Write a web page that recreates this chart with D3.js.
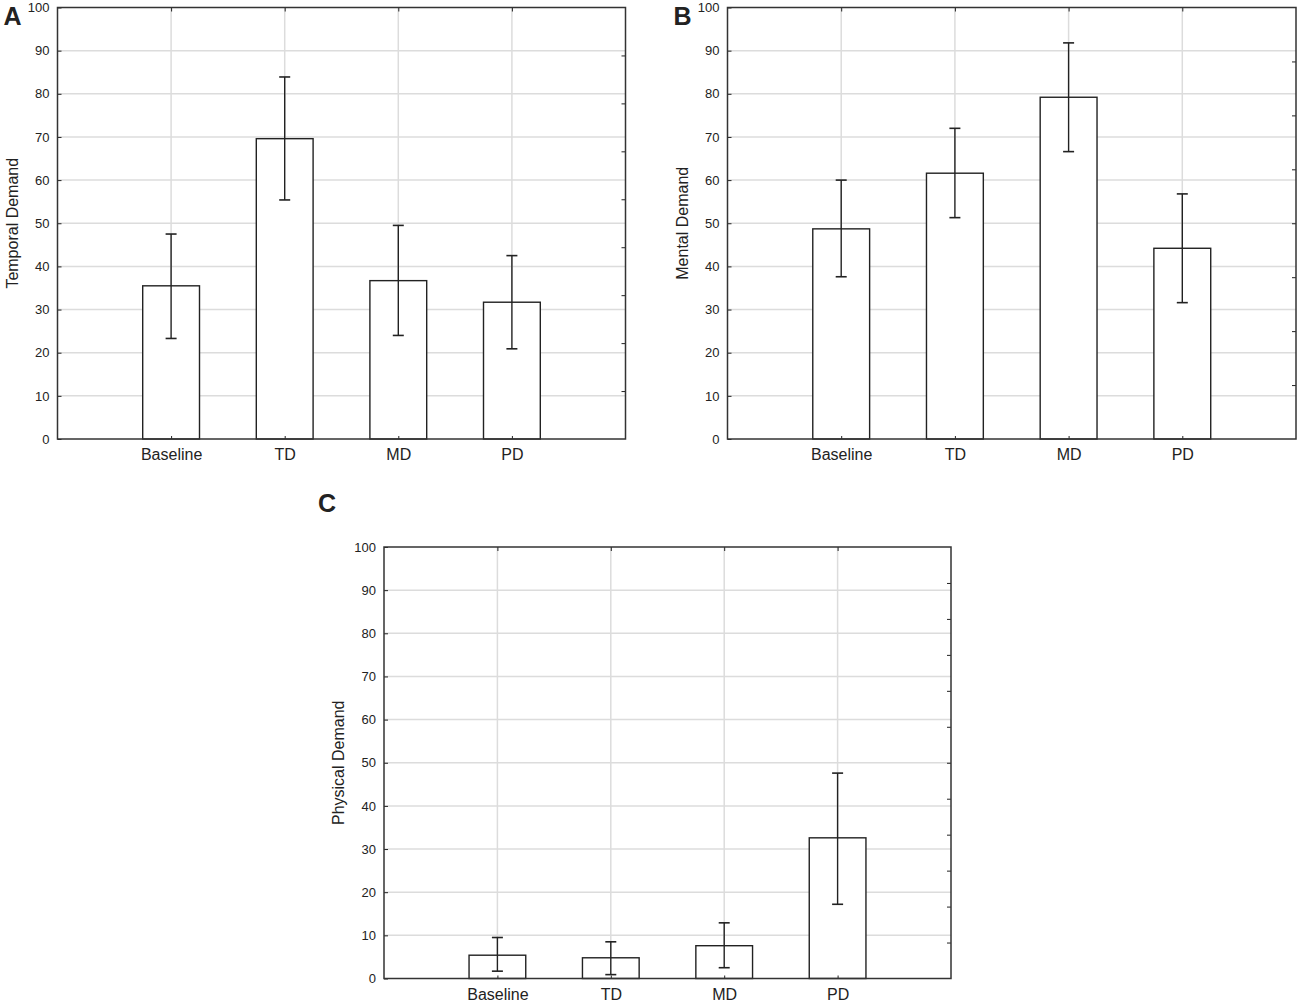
<!DOCTYPE html>
<html>
<head>
<meta charset="utf-8">
<script src="https://cdn.jsdelivr.net/npm/d3@7"></script>
<style>
  body { margin: 0; background: #fff; }
  text { font-family: "Liberation Sans", Arial, sans-serif; fill: #222; }
</style>
</head>
<body>
<div id="chart"></div>
<script>
// categories shared by the three panels
var categories = ["Baseline", "TD", "MD", "PD"];
var yTicks = [0, 10, 20, 30, 40, 50, 60, 70, 80, 90, 100];

// A - temporal demand
var temporalMean = [35.5, 69.6, 36.7, 31.7];
var temporalLow  = [23.3, 55.4, 24.0, 20.9];
var temporalHigh = [47.5, 83.9, 49.5, 42.5];

// B - mental demand
var mentalMean = [48.7, 61.6, 79.2, 44.2];
var mentalLow  = [37.6, 51.3, 66.6, 31.6];
var mentalHigh = [60.0, 72.0, 91.8, 56.8];

// C - physical demand
var physicalMean = [5.4, 4.8, 7.6, 32.6];
var physicalLow  = [1.7, 0.9, 2.5, 17.2];
var physicalHigh = [9.5, 8.5, 12.9, 47.6];

var svg = d3.select("#chart").append("svg")
    .attr("width", 1300)
    .attr("height", 1004);

var panels = [
    {letter: "A", title: "Temporal Demand", mean: temporalMean, low: temporalLow, high: temporalHigh,
     left: 57.5, top: 7.5, right: 625.5, bottom: 439, rightTicks: 9},
    {letter: "B", title: "Mental Demand", mean: mentalMean, low: mentalLow, high: mentalHigh,
     left: 727.5, top: 7.5, right: 1296, bottom: 439, rightTicks: 8},
    {letter: "C", title: "Physical Demand", mean: physicalMean, low: physicalLow, high: physicalHigh,
     left: 384, top: 547, right: 951, bottom: 978.5, rightTicks: 12}
];

function drawPanel(p) {
    var w = p.right - p.left;
    var g = svg.append("g");

    var x = d3.scalePoint().domain(categories).range([p.left + w / 5, p.right - w / 5]);
    var y = d3.scaleLinear().domain([0, 100]).range([p.bottom, p.top]);
    var barW = w / 10;

    var data = categories.map(function(c, i) {
        return {cat: c, mean: p.mean[i], low: p.low[i], high: p.high[i]};
    });

    // grid
    g.selectAll(".hgrid").data(yTicks.slice(1, -1)).enter().append("line")
        .attr("x1", p.left).attr("x2", p.right)
        .attr("y1", d => y(d)).attr("y2", d => y(d))
        .attr("stroke", "#dcdcdc").attr("stroke-width", 1.5);
    g.selectAll(".vgrid").data(categories).enter().append("line")
        .attr("x1", d => x(d)).attr("x2", d => x(d))
        .attr("y1", p.top).attr("y2", p.bottom)
        .attr("stroke", "#dcdcdc").attr("stroke-width", 1.5);

    // bars
    g.selectAll(".bar").data(data).enter().append("rect")
        .attr("x", d => x(d.cat) - barW / 2)
        .attr("y", d => y(d.mean))
        .attr("width", barW)
        .attr("height", d => y(0) - y(d.mean))
        .attr("fill", "#fff").attr("stroke", "#222").attr("stroke-width", 1.4);

    // error bars
    var eb = g.selectAll(".err").data(data).enter().append("g");
    eb.append("line")
        .attr("x1", d => x(d.cat)).attr("x2", d => x(d.cat))
        .attr("y1", d => y(d.low)).attr("y2", d => y(d.high))
        .attr("stroke", "#222").attr("stroke-width", 1.4);
    eb.append("line")
        .attr("x1", d => x(d.cat) - 5.5).attr("x2", d => x(d.cat) + 5.5)
        .attr("y1", d => y(d.high)).attr("y2", d => y(d.high))
        .attr("stroke", "#222").attr("stroke-width", 1.6);
    eb.append("line")
        .attr("x1", d => x(d.cat) - 5.5).attr("x2", d => x(d.cat) + 5.5)
        .attr("y1", d => y(d.low)).attr("y2", d => y(d.low))
        .attr("stroke", "#222").attr("stroke-width", 1.6);

    // left axis, ticks pointing inward
    var left = g.append("g").attr("transform", "translate(" + p.left + ",0)")
        .call(d3.axisLeft(y).tickValues(yTicks).tickSize(-4).tickPadding(8));
    left.select(".domain").remove();
    left.selectAll("text").style("font-size", "13px").attr("fill", "#222");
    left.selectAll("line").attr("stroke", "#222");

    // bottom axis
    var bottom = g.append("g").attr("transform", "translate(0," + p.bottom + ")")
        .call(d3.axisBottom(x).tickSize(-3).tickPadding(10));
    bottom.select(".domain").remove();
    bottom.selectAll("text").style("font-size", "16px").attr("fill", "#222");
    bottom.selectAll("line").attr("stroke", "#222");

    // top axis ticks (no labels)
    var top = g.append("g").attr("transform", "translate(0," + p.top + ")")
        .call(d3.axisTop(x).tickSize(-4).tickFormat(""));
    top.select(".domain").remove();
    top.selectAll("line").attr("stroke", "#222");

    // right axis ticks (no labels)
    var yr = d3.scaleLinear().domain([0, p.rightTicks]).range([p.bottom, p.top]);
    var right = g.append("g").attr("transform", "translate(" + p.right + ",0)")
        .call(d3.axisRight(yr).tickValues(d3.range(1, p.rightTicks)).tickSize(-4).tickFormat(""));
    right.select(".domain").remove();
    right.selectAll("line").attr("stroke", "#222");

    // frame
    g.append("rect")
        .attr("x", p.left).attr("y", p.top)
        .attr("width", w).attr("height", p.bottom - p.top)
        .attr("fill", "none").attr("stroke", "#333").attr("stroke-width", 1.5);

    // y title
    var cy = (p.top + p.bottom) / 2;
    g.append("text")
        .attr("transform", "translate(" + (p.left - 40) + "," + cy + ") rotate(-90)")
        .attr("text-anchor", "middle")
        .style("font-size", "16px")
        .text(p.title);

    // panel letter
    g.append("text")
        .attr("x", p.left - (p.letter == "C" ? 66 : 54))
        .attr("y", p.letter == "C" ? 512 : 25)
        .style("font-size", "25px").style("font-weight", "bold")
        .attr("fill", "#111")
        .text(p.letter);
}

panels.forEach(drawPanel);
</script>
</body>
</html>
